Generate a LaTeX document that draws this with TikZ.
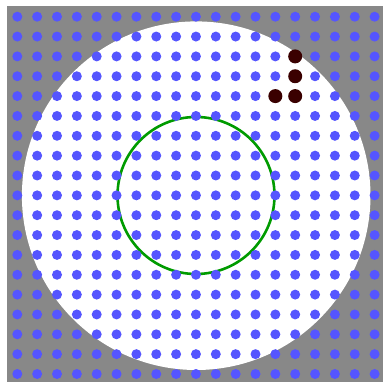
\documentclass[tikz,border=0pt]{standalone}
\definecolor{bg}{RGB}{136,136,136}
\definecolor{dotblue}{RGB}{85,85,255}
\definecolor{livebrown}{RGB}{58,0,0}
\definecolor{ringgreen}{RGB}{0,155,0}
\tikzset{
  blue dot/.style={fill=dotblue, draw=none},
  live dot/.style={fill=livebrown, draw=none},
  ring/.style={draw=ringgreen, line width=2.6pt}
}
\begin{document}
\begin{tikzpicture}[x=1pt,y=-1pt]
\useasboundingbox (0,0) rectangle (383,382);
\fill[bg] (7,6) rectangle (383,382);
\fill[white] (196.2,195.7) circle (174.3);
\draw[ring] (196,195.5) circle (78.5);
\foreach \i in {0,...,18}{
  \foreach \j in {0,...,18}{
    \fill[blue dot] ({17.3+19.85*\i},{16.7+19.85*\j}) circle (5);
  }
}
\foreach \i/\j in {14/2,14/3,13/4,14/4}{
  \fill[live dot] ({17.3+19.85*\i},{16.7+19.85*\j}) circle (7);
}
\end{tikzpicture}
\end{document}
